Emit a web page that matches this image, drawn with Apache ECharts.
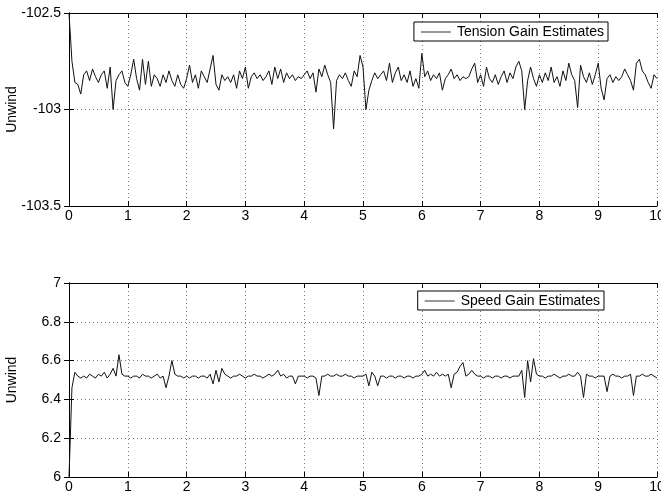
<!DOCTYPE html>
<html>
<head>
<meta charset="utf-8">
<script src="https://cdn.jsdelivr.net/npm/echarts@6/dist/echarts.min.js"></script>
<style>
  html, body { margin: 0; padding: 0; background: #fff; }
  #chart { width: 661px; height: 495px; }
</style>
</head>
<body>
<div id="chart"></div>
<script>
// sample step of both traces (seconds)
var step = 0.05;

// Tension gain estimates, t = 0 .. 10
var tensionGain = [
  -102.50, -102.75, -102.86, -102.87, -102.92, -102.82, -102.80, -102.85, -102.79, -102.83,
  -102.86, -102.82, -102.80, -102.89, -102.78, -103.00, -102.85, -102.82, -102.80, -102.86,
  -102.88, -102.82, -102.74, -102.84, -102.90, -102.74, -102.87, -102.75, -102.88, -102.82,
  -102.84, -102.88, -102.82, -102.86, -102.80, -102.85, -102.88, -102.82, -102.87, -102.89,
  -102.84, -102.77, -102.86, -102.82, -102.89, -102.80, -102.83, -102.86, -102.79, -102.72,
  -102.87, -102.90, -102.82, -102.85, -102.83, -102.86, -102.82, -102.89, -102.80, -102.84,
  -102.78, -102.89, -102.83, -102.81, -102.84, -102.82, -102.85, -102.83, -102.80, -102.87,
  -102.78, -102.84, -102.79, -102.86, -102.81, -102.84, -102.82, -102.85, -102.83, -102.84,
  -102.82, -102.80, -102.84, -102.81, -102.91, -102.79, -102.83, -102.77, -102.82, -102.86,
  -103.10, -102.85, -102.82, -102.84, -102.81, -102.85, -102.88, -102.80, -102.83, -102.72,
  -102.78, -103.00, -102.90, -102.85, -102.81, -102.84, -102.82, -102.80, -102.85, -102.76,
  -102.86, -102.81, -102.78, -102.85, -102.82, -102.86, -102.80, -102.88, -102.84, -102.89,
  -102.71, -102.83, -102.80, -102.85, -102.82, -102.84, -102.81, -102.90, -102.84, -102.82,
  -102.79, -102.84, -102.82, -102.85, -102.83, -102.84, -102.83, -102.79, -102.76, -102.86,
  -102.82, -102.88, -102.78, -102.84, -102.86, -102.82, -102.87, -102.83, -102.80, -102.86,
  -102.81, -102.84, -102.78, -102.75, -102.80, -103.00, -102.85, -102.78, -102.84, -102.88,
  -102.82, -102.86, -102.81, -102.85, -102.78, -102.86, -102.83, -102.88, -102.80, -102.85,
  -102.76, -102.82, -102.85, -102.99, -102.77, -102.83, -102.86, -102.81, -102.87, -102.82,
  -102.76, -102.89, -102.95, -102.84, -102.82, -102.86, -102.83, -102.85, -102.83, -102.79,
  -102.82, -102.85, -102.90, -102.76, -102.74, -102.80, -102.82, -102.86, -102.89, -102.82,
  -102.84
];

// Speed gain estimates, t = 0 .. 10
var speedGain = [
  6.00, 6.46, 6.54, 6.52, 6.51, 6.52, 6.51, 6.53, 6.52, 6.51,
  6.53, 6.52, 6.54, 6.51, 6.53, 6.56, 6.52, 6.63, 6.53, 6.52,
  6.52, 6.51, 6.52, 6.52, 6.51, 6.53, 6.52, 6.52, 6.51, 6.52,
  6.53, 6.51, 6.52, 6.46, 6.52, 6.60, 6.53, 6.52, 6.52, 6.51,
  6.52, 6.51, 6.52, 6.52, 6.51, 6.52, 6.52, 6.51, 6.53, 6.48,
  6.55, 6.49, 6.56, 6.53, 6.52, 6.51, 6.52, 6.52, 6.53, 6.52,
  6.51, 6.52, 6.52, 6.53, 6.52, 6.52, 6.51, 6.52, 6.53, 6.52,
  6.53, 6.55, 6.52, 6.53, 6.51, 6.52, 6.52, 6.48, 6.52, 6.52,
  6.52, 6.51, 6.52, 6.52, 6.51, 6.42, 6.52, 6.52, 6.53, 6.52,
  6.52, 6.53, 6.52, 6.52, 6.53, 6.52, 6.52, 6.51, 6.52, 6.52,
  6.52, 6.53, 6.47, 6.54, 6.52, 6.47, 6.52, 6.52, 6.51, 6.52,
  6.52, 6.51, 6.52, 6.52, 6.51, 6.52, 6.52, 6.51, 6.52, 6.52,
  6.53, 6.55, 6.52, 6.53, 6.52, 6.54, 6.52, 6.53, 6.52, 6.53,
  6.46, 6.53, 6.54, 6.57, 6.59, 6.52, 6.53, 6.55, 6.53, 6.52,
  6.52, 6.51, 6.52, 6.52, 6.51, 6.52, 6.52, 6.51, 6.52, 6.52,
  6.51, 6.52, 6.52, 6.52, 6.55, 6.41, 6.60, 6.49, 6.61, 6.53,
  6.52, 6.52, 6.51, 6.52, 6.52, 6.53, 6.52, 6.51, 6.52, 6.52,
  6.53, 6.52, 6.52, 6.54, 6.52, 6.41, 6.53, 6.52, 6.52, 6.51,
  6.52, 6.52, 6.52, 6.44, 6.52, 6.53, 6.52, 6.52, 6.51, 6.52,
  6.52, 6.53, 6.42, 6.52, 6.52, 6.53, 6.52, 6.52, 6.53, 6.52,
  6.51
];

var xTicks = [0, 10, 1];          // min, max, interval
var tensionTicks = [-103.5, -102.5, 0.5];
var speedTicks = [6, 7, 0.2];

function pairs(vals) {
  var out = [];
  for (var i = 0; i < vals.length; i++) {
    out.push([+(i * step).toFixed(2), vals[i]]);
  }
  return out;
}

var font = 'Liberation Sans, Arial, Helvetica, sans-serif';
var labelStyle = { color: '#000', fontSize: 14, fontFamily: font };
var gridLine = { show: true, lineStyle: { color: '#777', type: [1, 3], width: 1 } };

function xAxisFor(gi, bottom) {
  return {
    type: 'value', gridIndex: gi, position: bottom ? 'bottom' : 'top',
    min: xTicks[0], max: xTicks[1], interval: xTicks[2],
    axisLine: { show: true, lineStyle: { color: '#000', width: 1 } },
    axisTick: { show: true, inside: true, length: 5, lineStyle: { color: '#000' } },
    axisLabel: bottom ? Object.assign({ margin: 3 }, labelStyle) : { show: false },
    splitLine: bottom ? gridLine : { show: false }
  };
}

function yAxisFor(gi, ticks, left) {
  return {
    type: 'value', gridIndex: gi, position: left ? 'left' : 'right',
    min: ticks[0], max: ticks[1], interval: ticks[2],
    name: left ? 'Unwind' : '', nameLocation: 'middle', nameGap: 50,
    nameMoveOverlap: false,
    nameTextStyle: labelStyle,
    axisLine: { show: true, lineStyle: { color: '#000', width: 1 } },
    axisTick: { show: true, inside: true, length: 5, lineStyle: { color: '#000' } },
    axisLabel: left ? Object.assign({ margin: 8 }, labelStyle) : { show: false },
    splitLine: left ? gridLine : { show: false }
  };
}

function legendAt(top, right, name) {
  return {
    data: [{ name: name, icon: 'rect', itemStyle: { color: '#777' } }],
    top: top, right: right, orient: 'vertical',
    borderColor: '#000', borderWidth: 1, backgroundColor: '#fff',
    padding: [3, 4, 2, 7], itemWidth: 30, itemHeight: 1.5, itemGap: 0,
    textStyle: { color: '#000', fontSize: 14, fontFamily: font, padding: [0, 0, 0, 1] },
    selectedMode: false
  };
}

var chart = echarts.init(document.getElementById('chart'));
chart.setOption({
  animation: false,
  backgroundColor: '#fff',
  grid: [
    { left: 69, right: 4, top: 13, height: 193, outerBoundsMode: 'none', containLabel: false },
    { left: 69, right: 4, top: 283, height: 194, outerBoundsMode: 'none', containLabel: false }
  ],
  legend: [
    legendAt(22, 53, 'Tension Gain Estimates'),
    legendAt(291, 57, 'Speed Gain Estimates')
  ],
  xAxis: [xAxisFor(0, true), xAxisFor(0, false), xAxisFor(1, true), xAxisFor(1, false)],
  yAxis: [
    yAxisFor(0, tensionTicks, true), yAxisFor(0, tensionTicks, false),
    yAxisFor(1, speedTicks, true), yAxisFor(1, speedTicks, false)
  ],
  series: [
    {
      name: 'Tension Gain Estimates', type: 'line', xAxisIndex: 0, yAxisIndex: 0,
      data: pairs(tensionGain), symbol: 'none', clip: true,
      lineStyle: { color: '#111', width: 1 }, itemStyle: { color: '#777' }
    },
    {
      name: 'Speed Gain Estimates', type: 'line', xAxisIndex: 2, yAxisIndex: 2,
      data: pairs(speedGain), symbol: 'none', clip: true,
      lineStyle: { color: '#111', width: 1 }, itemStyle: { color: '#777' }
    }
  ]
});
</script>
</body>
</html>
